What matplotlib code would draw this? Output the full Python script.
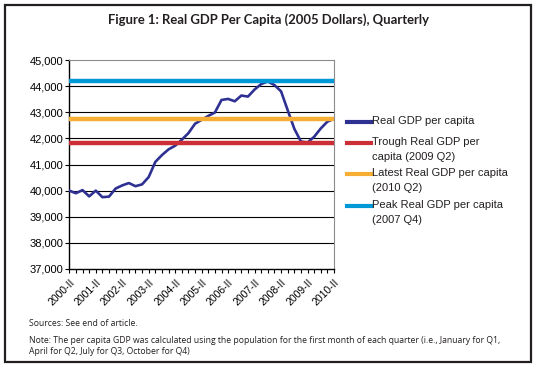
"""
Real GDP per capita, quarterly, with peak / trough / latest reference lines
"""

import matplotlib.pyplot as plt
from matplotlib.lines import Line2D
from matplotlib.patches import Rectangle

# quarterly values, 2000-II .. 2010-II (2005 dollars)
gdp_per_capita = [
    40000, 39900, 40020, 39780, 40000, 39750, 39770, 40080,
    40200, 40290, 40170, 40240, 40520, 41100, 41360, 41580,
    41720, 41950, 42200, 42560, 42710, 42860, 42990, 43470,
    43510, 43420, 43640, 43600, 43870, 44080, 44180, 44040,
    43800, 43080, 42370, 41880, 41840, 42060, 42380, 42640,
    42750,
]
trough_value = 41840   # 2009 Q2
latest_value = 42750   # 2010 Q2
peak_value = 44180     # 2007 Q4

roman = ["I", "II", "III", "IV"]
quarters = []
for i in range(len(gdp_per_capita)):
    q = i + 1  # start at Q2 of 2000
    quarters.append(f"{2000 + q // 4}-{roman[q % 4]}")

y_ticks = [37000, 38000, 39000, 40000, 41000, 42000, 43000, 44000, 45000]

legend_labels = [
    "Real GDP per capita",
    "Trough Real GDP per\ncapita (2009 Q2)",
    "Latest Real GDP per capita\n(2010 Q2)",
    "Peak Real GDP per capita\n(2007 Q4)",
]

NAVY = "#2e3192"
RED = "#cc2e36"
ORANGE = "#f6ae35"
BLUE = "#0099d8"


def fx(px):
    return px / 537


def fy(py):
    return 1 - py / 370


def main():
    fig = plt.figure(figsize=(5.37, 3.70), dpi=100)
    fig.patch.set_facecolor("white")

    # outer frame
    fig.patches.append(Rectangle((fx(5), fy(362)), 526 / 537, 357 / 370,
                                 transform=fig.transFigure, fill=False,
                                 edgecolor="#231f20", linewidth=1.6))

    fig.text(fx(268), fy(20),
             "Figure 1: Real GDP Per Capita (2005 Dollars), Quarterly",
             ha="center", va="center", fontsize=9.4, fontweight="bold",
             family="Lato", color="#231f20")

    ax = fig.add_axes([fx(69.3), fy(269), 264.7 / 537, 209 / 370])
    x = range(len(gdp_per_capita))
    n = len(gdp_per_capita)
    colors = [NAVY, RED, ORANGE, BLUE]

    ax.plot(x, gdp_per_capita, color=NAVY, lw=1.9, zorder=3,
            solid_joinstyle="round")
    for val, col in zip([trough_value, latest_value, peak_value], colors[1:]):
        ax.plot(x, [val] * n, color=col, lw=3.2, zorder=4)

    ax.set_xlim(0, n - 1)
    ax.set_ylim(37000, 45000)
    ax.set_yticks(y_ticks)
    ax.set_yticklabels([f"{v:,}" for v in y_ticks], fontsize=8,
                       family="Liberation Sans")
    ax.set_xticks(list(x))
    ax.set_xticklabels([q if i % 4 == 0 else "" for i, q in enumerate(quarters)],
                       rotation=45, ha="right", rotation_mode="anchor",
                       fontsize=7.5, family="Liberation Sans")
    ax.tick_params(axis="x", length=3, width=0.8, pad=3)
    ax.tick_params(axis="y", length=3, width=0.8, pad=1)

    for v in y_ticks[1:-1]:
        ax.axhline(v, color="black", lw=0.8, zorder=1)
    ax.spines["top"].set_color("#8c8c8c")
    ax.spines["right"].set_color("#8c8c8c")
    ax.spines["left"].set_linewidth(1.0)
    ax.spines["bottom"].set_linewidth(1.0)

    # legend, handle lined up with the first text line
    rows = [122, 143, 174, 206]
    for row, col, lab in zip(rows, colors, legend_labels):
        fig.add_artist(Line2D([fx(347), fx(371)], [fy(row), fy(row)],
                              color=col, lw=3, transform=fig.transFigure))
        fig.text(fx(372), fy(row - 6), lab, ha="left", va="top",
                 fontsize=8, family="Liberation Sans", color="#231f20",
                 linespacing=1.6)

    fig.text(fx(29), fy(324), "Sources: See end of article.",
             fontsize=6.2, family="Open Sans", va="center", color="#231f20")
    fig.text(fx(29), fy(346),
             "Note: The per capita GDP was calculated using the population for the "
             "first month of each quarter (i.e., January for Q1,\n"
             "April for Q2, July for Q3, October for Q4)",
             fontsize=6.2, family="Open Sans", va="center", color="#231f20",
             linespacing=1.35)

    fig.savefig("out.png", dpi=100)


if __name__ == "__main__":
    main()
